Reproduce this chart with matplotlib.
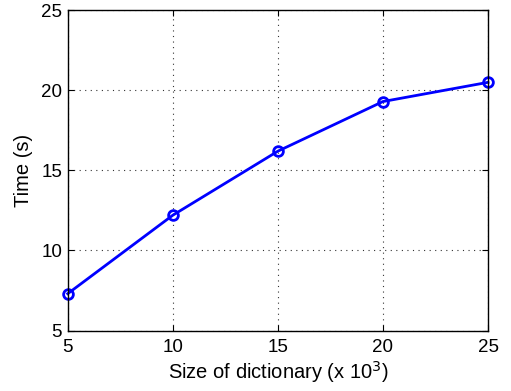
import matplotlib
matplotlib.use("Agg")
import matplotlib.pyplot as plt

plt.rcParams['font.family'] = ['Liberation Sans', 'DejaVu Sans']

dict_size = [5, 10, 15, 20, 25]
time_s = [7.3, 12.2, 16.2, 19.3, 20.5]

fig = plt.figure(figsize=(5.11, 3.91), dpi=100)
ax = fig.add_axes([0.1325, 0.1547, 0.8225, 0.819])

ax.plot(dict_size, time_s, color='#0000ff', linewidth=2, marker='o',
        markersize=7, markerfacecolor='none', markeredgewidth=2, clip_on=False)

ax.set_xlim(5, 25)
ax.set_ylim(5, 25)
ax.set_xticks([5, 10, 15, 20, 25])
ax.set_yticks([5, 10, 15, 20, 25])
ax.tick_params(direction='in', labelsize=13.5, length=4, top=True, right=True)
ax.tick_params(axis='x', pad=6)
ax.tick_params(axis='y', pad=4)
ax.grid(True, linestyle=(0, (1, 4)), color='#333333', linewidth=0.8)
for s in ax.spines.values():
    s.set_linewidth(1)

ax.set_xlabel('Size of dictionary (x 10$^3$)', fontsize=14.5, labelpad=2)
ax.set_ylabel('Time (s)', fontsize=14.5, labelpad=6)

fig.savefig("out.png", dpi=100)
